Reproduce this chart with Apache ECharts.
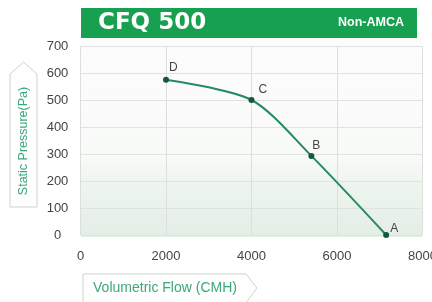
<!DOCTYPE html>
<html>
<head>
<meta charset="utf-8">
<script src="https://cdn.jsdelivr.net/npm/echarts@6/dist/echarts.min.js"></script>
<style>
html,body{margin:0;padding:0;background:#fff;}
#chart{width:432px;height:302px;}
</style>
</head>
<body>
<div id="chart"></div>
<script>
// ---- data ----
const pointNames = ['D', 'C', 'B', 'A'];
const flowValues = [2000, 4000, 5400, 7150];      // CMH
const pressureValues = [575, 500, 293, 0];         // Pa
const xTicks = [0, 2000, 4000, 6000, 8000];
const yTicks = [0, 100, 200, 300, 400, 500, 600, 700];
const titleText = 'CFQ 500';
const badgeText = 'Non-AMCA';
const xAxisName = 'Volumetric Flow (CMH)';
const yAxisName = 'Static Pressure(Pa)';

// label placement (style, not data)
const labelOffsets = { D: [0, -12], C: [4, -10], B: [-2, -10], A: [1, -6] };

const chart = echarts.init(document.getElementById('chart'), null, { renderer: 'canvas' });

const seriesData = pointNames.map((n, i) => ({
  value: [flowValues[i], pressureValues[i]],
  name: n,
  label: { offset: labelOffsets[n] }
}));

const option = {
  animation: false,
  backgroundColor: '#ffffff',
  grid: { left: 80.5, right: 9.5, top: 46, bottom: 67, containLabel: false, outerBoundsMode: 'none' },
  xAxis: {
    type: 'value',
    min: xTicks[0], max: xTicks[xTicks.length - 1], interval: 2000,
    axisLine: { show: false }, axisTick: { show: false },
    splitLine: { show: true, lineStyle: { color: '#dedede', width: 1 } },
    axisLabel: { color: '#444', fontSize: 13, fontFamily: 'Liberation Sans', margin: 15, formatter: v => String(v), hideOverlap: false }
  },
  yAxis: {
    type: 'value',
    min: yTicks[0], max: yTicks[yTicks.length - 1], interval: 100,
    axisLine: { show: false }, axisTick: { show: false },
    splitLine: { show: true, lineStyle: { color: '#e2e2e2', width: 1 } },
    axisLabel: { color: '#444', fontSize: 13, fontFamily: 'Liberation Sans', margin: 23, align: 'center', formatter: v => String(v) }
  },
  graphic: [
    {
      type: 'rect', z: -10, silent: true,
      shape: { x: 81, y: 39, width: 341, height: 198 },
      style: {
        fill: new echarts.graphic.LinearGradient(0, 0, 0, 1, [
          { offset: 0, color: '#fcfcfc' },
          { offset: 0.6, color: '#f8faf8' },
          { offset: 0.72, color: '#eef5ef' },
          { offset: 1, color: '#e3eee5' }
        ])
      }
    },
    {
      type: 'rect', z: 10, silent: true,
      shape: { x: 81, y: 8, width: 336, height: 30 },
      style: { fill: '#16a04f' }
    },
    {
      type: 'text', z: 11, silent: true,
      x: 98, y: 23.5,
      style: { text: titleText, fill: '#ffffff', font: 'bold 23px "DejaVu Sans"', verticalAlign: 'middle' }
    },
    {
      type: 'text', z: 11, silent: true,
      x: 404, y: 23,
      style: { text: badgeText, fill: '#ffffff', font: 'bold 12.5px "Liberation Sans"', align: 'right', verticalAlign: 'middle' }
    },
    {
      type: 'polygon', z: 5, silent: true,
      shape: { points: [[10, 74], [23.5, 62], [37, 74], [37, 207], [10, 207]] },
      style: { fill: '#fdfefd', stroke: '#c9d6cc', lineWidth: 1 }
    },
    {
      type: 'text', z: 6, silent: true,
      x: 23.5, y: 141, rotation: Math.PI / 2,
      style: { text: yAxisName, fill: '#3da77c', font: '12.5px "Liberation Sans"', align: 'center', verticalAlign: 'middle' }
    },
    {
      type: 'polygon', z: 5, silent: true,
      shape: { points: [[83, 274], [246, 274], [257, 288], [246, 303], [83, 303]] },
      style: { fill: '#fdfefd', stroke: '#c9d6cc', lineWidth: 1 }
    },
    {
      type: 'text', z: 6, silent: true,
      x: 165, y: 288,
      style: { text: xAxisName, fill: '#3da77c', font: '14px "Liberation Sans"', align: 'center', verticalAlign: 'middle' }
    }
  ],
  series: [{
    type: 'line',
    data: seriesData,
    smooth: 0.28,
    symbol: 'circle',
    symbolSize: 6,
    lineStyle: { color: '#258a60', width: 2 },
    itemStyle: { color: '#14583b' },
    label: {
      show: true,
      position: 'right',
      distance: 0,
      formatter: p => p.name,
      color: '#444',
      fontSize: 12,
      fontFamily: 'Liberation Sans'
    },
    z: 3
  }]
};

chart.setOption(option);
</script>
</body>
</html>
